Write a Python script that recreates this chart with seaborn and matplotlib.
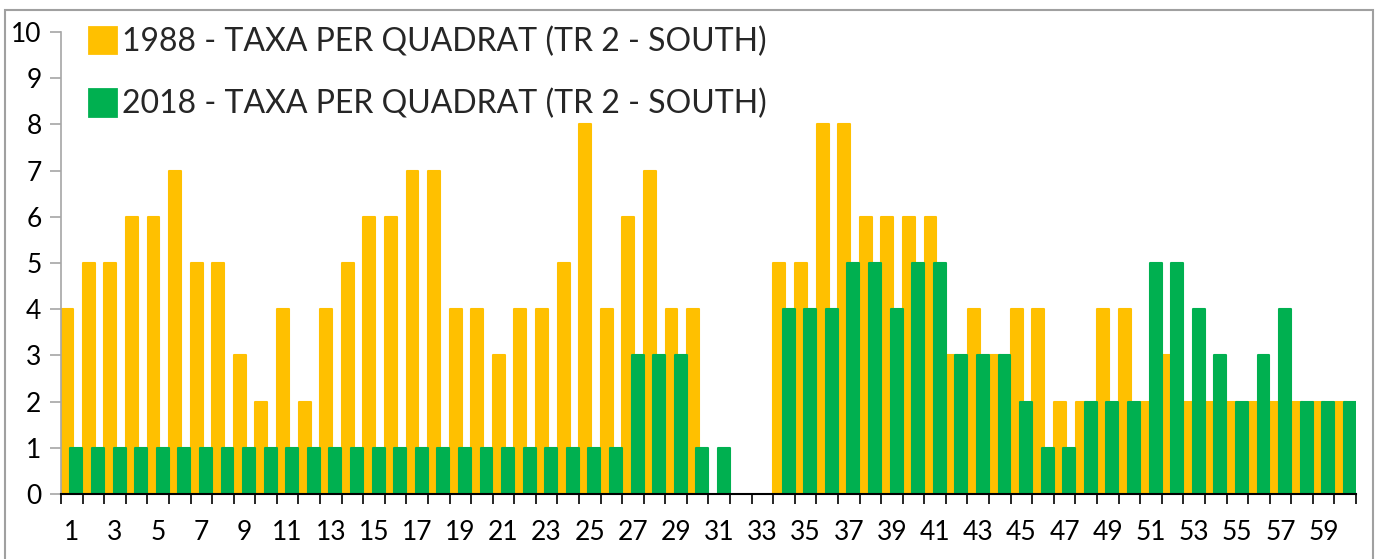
import numpy as np
import pandas as pd
import matplotlib
matplotlib.use("Agg")
import matplotlib.pyplot as plt
from matplotlib.patches import Patch, Rectangle
import seaborn as sns

quadrats = list(range(1, 61))
taxa_1988 = [4, 5, 5, 6, 6, 7, 5, 5, 3, 2,
             4, 2, 4, 5, 6, 6, 7, 7, 4, 4,
             3, 4, 4, 5, 8, 4, 6, 7, 4, 4,
             0, 0, 0, 5, 5, 8, 8, 6, 6, 6,
             6, 3, 4, 3, 4, 4, 2, 2, 4, 4,
             2, 3, 2, 2, 2, 2, 2, 2, 2, 2]
taxa_2018 = [1, 1, 1, 1, 1, 1, 1, 1, 1, 1,
             1, 1, 1, 1, 1, 1, 1, 1, 1, 1,
             1, 1, 1, 1, 1, 1, 3, 3, 3, 1,
             1, 0, 0, 4, 4, 4, 5, 5, 4, 5,
             5, 3, 3, 3, 2, 1, 1, 2, 2, 2,
             5, 5, 4, 3, 2, 3, 4, 2, 2, 2]
label_1988 = "1988 - TAXA PER QUADRAT (TR 2 - SOUTH)"
label_2018 = "2018 - TAXA PER QUADRAT (TR 2 - SOUTH)"
c1988 = "#FFC000"
c2018 = "#00B050"

sns.set_theme(style="white")
plt.rcParams['font.family'] = ['Lato', 'DejaVu Sans']

fig = plt.figure(figsize=(13.76, 5.59), dpi=100)
ax = fig.add_axes([61/1376, 1-494/559, (1356-61)/1376, (494-32)/559])

idx = np.arange(len(quadrats))
off = 0.215
df1 = pd.DataFrame({"x": idx - off, "y": taxa_1988})
df2 = pd.DataFrame({"x": idx + off, "y": taxa_2018})
sns.barplot(data=df1, x="x", y="y", native_scale=True, width=0.55,
            color=c1988, saturation=1, ax=ax, linewidth=1.5, edgecolor=c1988)
sns.barplot(data=df2, x="x", y="y", native_scale=True, width=0.55,
            color=c2018, saturation=1, ax=ax, linewidth=1.5, edgecolor=c2018)
for p in ax.patches:
    p.set_joinstyle("round")
    if p.get_height() == 0:
        p.set_visible(False)

ax.set_xlim(-0.5, len(quadrats) - 0.5)
ax.set_ylim(0, 10)
ax.set_xlabel("")
ax.set_ylabel("")

# x ticks: boundaries as major ticks, labels at odd quadrats
ax.set_xticks(np.arange(len(quadrats) + 1) - 0.5)
ax.set_xticklabels([])
ax.set_xticks(idx[::2], minor=True)
ax.set_xticklabels([str(q) for q in quadrats[::2]], minor=True)
ax.tick_params(axis="x", which="major", direction="out", length=7, width=1.2,
               color="black", bottom=True)
ax.tick_params(axis="x", which="minor", length=0, pad=19, bottom=True,
               labelsize=19, labelcolor="black")

ax.set_yticks(range(0, 11))
ax.set_yticklabels([str(v) for v in range(0, 11)])
ax.tick_params(axis="y", direction="out", length=8, width=1.2, color="#A6A6A6",
               pad=6, left=True, labelsize=19, labelcolor="black")

for s in ["top", "right"]:
    ax.spines[s].set_visible(False)
ax.spines["left"].set_color("#A6A6A6")
ax.spines["left"].set_linewidth(1.2)
ax.spines["bottom"].set_color("black")
ax.spines["bottom"].set_linewidth(1.5)
ax.spines["bottom"].set_zorder(5)

handles = [Patch(facecolor=c1988, edgecolor=c1988, label=label_1988, joinstyle="round", linewidth=2),
           Patch(facecolor=c2018, edgecolor=c2018, label=label_2018, joinstyle="round", linewidth=2)]
fig.legend(handles=handles, loc="upper left", bbox_to_anchor=(76/1376, 1-14/559),
           frameon=False, fontsize=23, handlelength=0.85, handleheight=0.9,
           handletextpad=0.2, labelspacing=1.0, borderaxespad=0)

fig.patches.append(Rectangle((5/1376, -0.05), (1373-5)/1376, 1.05-10/559,
                             transform=fig.transFigure, fill=False,
                             edgecolor="#A0A0A0", linewidth=1.5))

fig.savefig("out.png", dpi=100)
